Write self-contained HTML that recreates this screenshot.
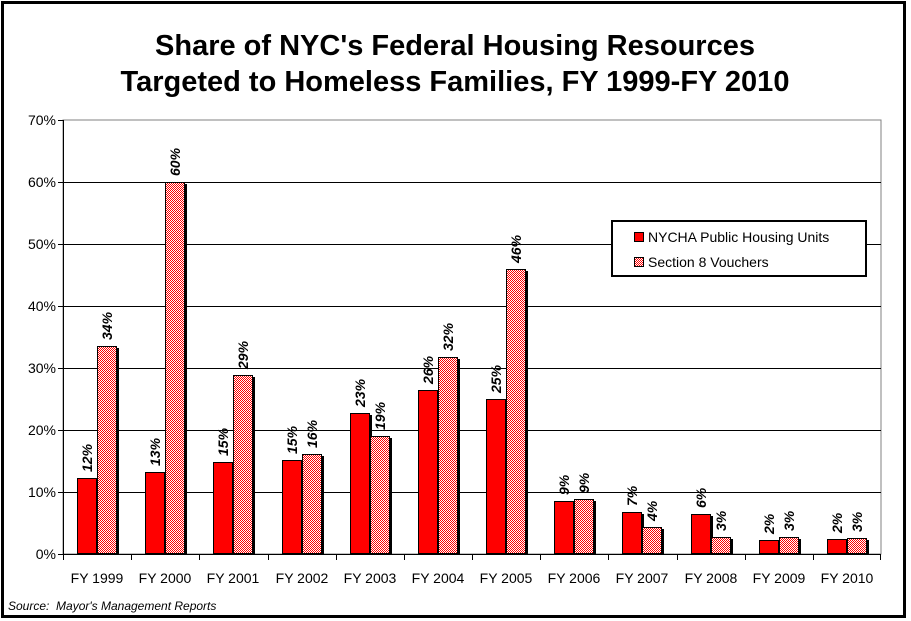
<!DOCTYPE html>
<html><head><meta charset="utf-8"><style>
body{margin:0;background:#fff;}
svg{display:block;font-family:"Liberation Sans",Arial,sans-serif;}
</style></head><body>
<svg width="911" height="621" viewBox="0 0 911 621" xmlns="http://www.w3.org/2000/svg">
<defs>
<pattern id="chk" width="2" height="2" patternUnits="userSpaceOnUse">
<rect width="2" height="2" fill="#fff"/><rect width="1" height="1" fill="#ff0000"/><rect x="1" y="1" width="1" height="1" fill="#ff0000"/>
</pattern>
</defs>
<rect x="2.5" y="2.5" width="902" height="614" fill="#fff" stroke="#000" stroke-width="3"/>
<text x="455" y="55" text-anchor="middle" font-size="29" font-weight="bold">Share of NYC's Federal Housing Resources</text>
<text x="455" y="91" text-anchor="middle" font-size="29" font-weight="bold">Targeted to Homeless Families, FY 1999-FY 2010</text>
<rect x="63" y="120" width="818" height="434" fill="#fff" stroke="#808080" stroke-width="1"/>
<g stroke="#000" stroke-width="1">
<line x1="63" y1="492.5" x2="881" y2="492.5"/><line x1="63" y1="430.5" x2="881" y2="430.5"/>
<line x1="63" y1="368.5" x2="881" y2="368.5"/><line x1="63" y1="306.5" x2="881" y2="306.5"/>
<line x1="63" y1="244.5" x2="881" y2="244.5"/><line x1="63" y1="182.5" x2="881" y2="182.5"/>
<line x1="63.5" y1="120" x2="63.5" y2="554"/><line x1="63" y1="554.5" x2="881" y2="554.5"/>
<line x1="58" y1="120.5" x2="63" y2="120.5"/><line x1="58" y1="182.5" x2="63" y2="182.5"/><line x1="58" y1="244.5" x2="63" y2="244.5"/><line x1="58" y1="306.5" x2="63" y2="306.5"/><line x1="58" y1="368.5" x2="63" y2="368.5"/><line x1="58" y1="430.5" x2="63" y2="430.5"/><line x1="58" y1="492.5" x2="63" y2="492.5"/><line x1="58" y1="554.5" x2="63" y2="554.5"/>
<line x1="63.5" y1="554" x2="63.5" y2="560"/><line x1="131.5" y1="554" x2="131.5" y2="560"/><line x1="199.5" y1="554" x2="199.5" y2="560"/><line x1="268.5" y1="554" x2="268.5" y2="560"/><line x1="336.5" y1="554" x2="336.5" y2="560"/><line x1="404.5" y1="554" x2="404.5" y2="560"/><line x1="472.5" y1="554" x2="472.5" y2="560"/><line x1="540.5" y1="554" x2="540.5" y2="560"/><line x1="608.5" y1="554" x2="608.5" y2="560"/><line x1="677.5" y1="554" x2="677.5" y2="560"/><line x1="745.5" y1="554" x2="745.5" y2="560"/><line x1="813.5" y1="554" x2="813.5" y2="560"/><line x1="880.5" y1="554" x2="880.5" y2="560"/>
</g>
<g font-size="14" text-anchor="end" fill="#000">
<text x="56" y="559">0%</text><text x="56" y="497">10%</text><text x="56" y="435">20%</text>
<text x="56" y="373">30%</text><text x="56" y="311">40%</text><text x="56" y="249">50%</text>
<text x="56" y="187">60%</text><text x="56" y="125">70%</text>
</g>
<g fill="#000">
<rect x="79" y="480" width="20" height="74"/><rect x="99" y="348" width="20" height="206"/>
<rect x="147" y="474" width="20" height="80"/><rect x="167" y="184" width="20" height="370"/>
<rect x="215" y="464" width="20" height="90"/><rect x="235" y="377" width="20" height="177"/>
<rect x="284" y="462" width="20" height="92"/><rect x="304" y="456" width="20" height="98"/>
<rect x="352" y="415" width="20" height="139"/><rect x="372" y="438" width="20" height="116"/>
<rect x="420" y="392" width="20" height="162"/><rect x="440" y="359" width="20" height="195"/>
<rect x="488" y="401" width="20" height="153"/><rect x="508" y="271" width="20" height="283"/>
<rect x="556" y="503" width="20" height="51"/><rect x="576" y="501" width="20" height="53"/>
<rect x="624" y="514" width="20" height="40"/><rect x="644" y="529" width="20" height="25"/>
<rect x="693" y="516" width="20" height="38"/><rect x="713" y="539" width="20" height="15"/>
<rect x="761" y="542" width="20" height="12"/><rect x="781" y="539" width="20" height="15"/>
<rect x="829" y="541" width="20" height="13"/><rect x="849" y="540" width="20" height="14"/>
</g>
<g stroke="#000" stroke-width="1">
<rect x="77.5" y="478.5" width="19" height="75" fill="#ff0000"/><rect x="97.5" y="346.5" width="19" height="207" fill="url(#chk)"/>
<rect x="145.5" y="472.5" width="19" height="81" fill="#ff0000"/><rect x="165.5" y="182.5" width="19" height="371" fill="url(#chk)"/>
<rect x="213.5" y="462.5" width="19" height="91" fill="#ff0000"/><rect x="233.5" y="375.5" width="19" height="178" fill="url(#chk)"/>
<rect x="282.5" y="460.5" width="19" height="93" fill="#ff0000"/><rect x="302.5" y="454.5" width="19" height="99" fill="url(#chk)"/>
<rect x="350.5" y="413.5" width="19" height="140" fill="#ff0000"/><rect x="370.5" y="436.5" width="19" height="117" fill="url(#chk)"/>
<rect x="418.5" y="390.5" width="19" height="163" fill="#ff0000"/><rect x="438.5" y="357.5" width="19" height="196" fill="url(#chk)"/>
<rect x="486.5" y="399.5" width="19" height="154" fill="#ff0000"/><rect x="506.5" y="269.5" width="19" height="284" fill="url(#chk)"/>
<rect x="554.5" y="501.5" width="19" height="52" fill="#ff0000"/><rect x="574.5" y="499.5" width="19" height="54" fill="url(#chk)"/>
<rect x="622.5" y="512.5" width="19" height="41" fill="#ff0000"/><rect x="642.5" y="527.5" width="19" height="26" fill="url(#chk)"/>
<rect x="691.5" y="514.5" width="19" height="39" fill="#ff0000"/><rect x="711.5" y="537.5" width="19" height="16" fill="url(#chk)"/>
<rect x="759.5" y="540.5" width="19" height="13" fill="#ff0000"/><rect x="779.5" y="537.5" width="19" height="16" fill="url(#chk)"/>
<rect x="827.5" y="539.5" width="19" height="14" fill="#ff0000"/><rect x="847.5" y="538.5" width="19" height="15" fill="url(#chk)"/>
</g>
<g font-size="14" font-weight="bold" font-style="italic">
<text transform="translate(92 472) rotate(-90)">12%</text><text transform="translate(112 340) rotate(-90)">34%</text>
<text transform="translate(160 466) rotate(-90)">13%</text><text transform="translate(180 176) rotate(-90)">60%</text>
<text transform="translate(228 456) rotate(-90)">15%</text><text transform="translate(248 369) rotate(-90)">29%</text>
<text transform="translate(297 454) rotate(-90)">15%</text><text transform="translate(317 448) rotate(-90)">16%</text>
<text transform="translate(365 407) rotate(-90)">23%</text><text transform="translate(385 430) rotate(-90)">19%</text>
<text transform="translate(433 384) rotate(-90)">26%</text><text transform="translate(453 351) rotate(-90)">32%</text>
<text transform="translate(501 393) rotate(-90)">25%</text><text transform="translate(521 263) rotate(-90)">46%</text>
<text transform="translate(569 495) rotate(-90)">9%</text><text transform="translate(589 493) rotate(-90)">9%</text>
<text transform="translate(637 506) rotate(-90)">7%</text><text transform="translate(657 521) rotate(-90)">4%</text>
<text transform="translate(706 508) rotate(-90)">6%</text><text transform="translate(726 531) rotate(-90)">3%</text>
<text transform="translate(774 534) rotate(-90)">2%</text><text transform="translate(794 531) rotate(-90)">3%</text>
<text transform="translate(842 533) rotate(-90)">2%</text><text transform="translate(862 532) rotate(-90)">3%</text>
</g>
<g font-size="14" text-anchor="middle">
<text x="97" y="583">FY 1999</text><text x="165" y="583">FY 2000</text><text x="233" y="583">FY 2001</text>
<text x="302" y="583">FY 2002</text><text x="370" y="583">FY 2003</text><text x="438" y="583">FY 2004</text>
<text x="506" y="583">FY 2005</text><text x="574" y="583">FY 2006</text><text x="642" y="583">FY 2007</text>
<text x="711" y="583">FY 2008</text><text x="779" y="583">FY 2009</text><text x="847" y="583">FY 2010</text>
</g>
<rect x="612" y="221" width="254" height="55" fill="#fff" stroke="#000" stroke-width="2"/>
<rect x="634.5" y="232.5" width="9" height="9" fill="#ff0000" stroke="#000" stroke-width="1"/>
<text x="648" y="242" font-size="14">NYCHA Public Housing Units</text>
<rect x="634.5" y="257.5" width="9" height="9" fill="url(#chk)" stroke="#000" stroke-width="1"/>
<text x="648" y="267" font-size="14">Section 8 Vouchers</text>
<text x="8" y="610" font-size="12" font-style="italic">Source:&#160;&#160;Mayor's Management Reports</text>
</svg>
</body></html>
